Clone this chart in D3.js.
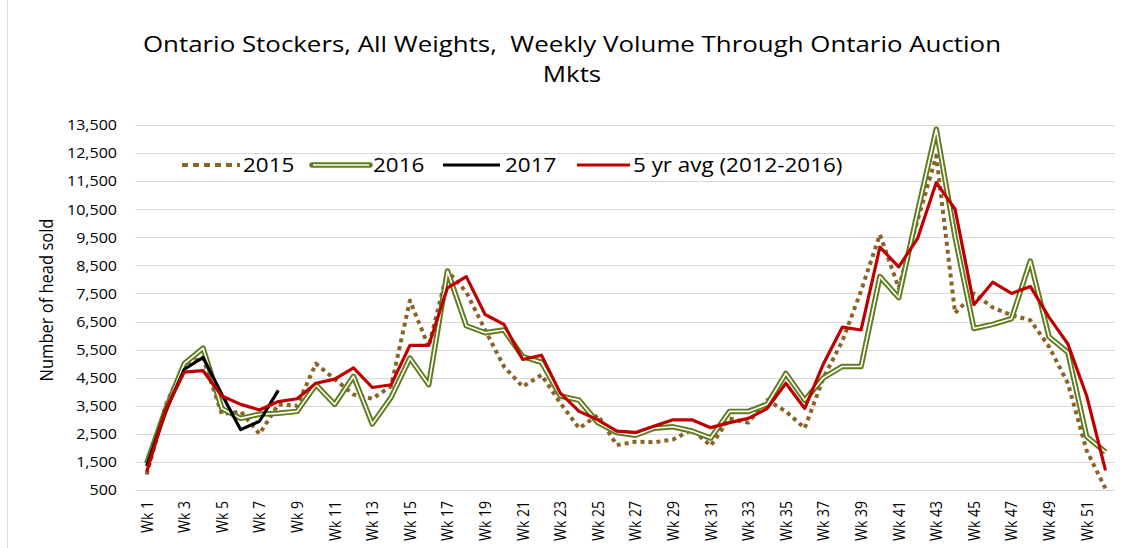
<!DOCTYPE html>
<html><head><meta charset="utf-8">
<script src="https://cdn.jsdelivr.net/npm/d3@7"></script>
<style>
body{margin:0;background:#fff;}
text{font-family:"Open Sans",sans-serif;white-space:pre;}
</style>
</head><body>
<svg id="chart" width="1125" height="548"></svg>
<script>
const titleLines = ["Ontario Stockers, All Weights,  Weekly Volume Through Ontario Auction", "Mkts"];
const yAxisTitle = "Number of head sold";
const weeks = d3.range(1, 53).map(w => "Wk " + w);
const yTicks = d3.range(500, 13501, 1000);
const seriesNames = ["2015", "2016", "2017", "5 yr avg (2012-2016)"];

const s2015 = [1050,3500,5000,5200,3200,3300,2500,3550,3500,5000,4450,3900,3750,4200,7250,5600,8300,7550,6200,4900,4180,4600,3600,2700,3170,2100,2220,2200,2300,2650,2080,3050,2900,3700,3300,2700,4500,5800,7600,9600,7700,10100,12400,6800,7500,7000,6730,6550,5600,4300,1900,550];
const s2016 = [1450,3350,5000,5550,3400,3050,3200,3230,3300,4250,3550,4550,2850,3800,5200,4250,8300,6350,6100,6200,5250,5050,3850,3700,2900,2550,2450,2700,2750,2600,2350,3300,3300,3550,4650,3700,4500,4900,4900,8100,7350,10400,13350,9500,6250,6400,6600,8650,5950,5400,2400,1850];
const s2017 = [1350,3300,4800,5220,3900,2650,2950,4050];
const sAvg = [1150,3350,4700,4750,3850,3550,3350,3650,3750,4300,4450,4850,4150,4250,5650,5650,7700,8100,6750,6400,5150,5300,3950,3300,3000,2600,2550,2780,3000,3000,2720,2900,3050,3400,4300,3400,5000,6300,6200,9150,8450,9450,11450,10500,7100,7900,7500,7750,6650,5700,3850,1200];

const svg = d3.select("#chart");
const plotL = 137.3, plotR = 1114.9, plotT = 125, plotB = 490;
const stretch = 1.15;

const x = d3.scaleBand().domain(weeks).range([plotL, plotR]).padding(0);
const y = d3.scaleLinear().domain([500, 13500]).range([plotB, plotT]);
const cx = w => x(w) + x.bandwidth() / 2;

// left border of chart area
svg.append("line").attr("x1", 7.5).attr("x2", 7.5).attr("y1", 0).attr("y2", 548)
  .attr("stroke", "#d9d9d9").attr("stroke-width", 1);

// gridlines
svg.append("g").selectAll("line").data(yTicks).join("line")
  .attr("x1", plotL - 2).attr("x2", plotR)
  .attr("y1", d => Math.round(y(d)) + 0.5).attr("y2", d => Math.round(y(d)) + 0.5)
  .attr("stroke", "#d9d9d9").attr("stroke-width", 1);

// y axis labels
const yAxis = d3.axisLeft(y).tickValues(yTicks).tickFormat(d3.format(",")).tickSize(0).tickPadding(0);
const ya = svg.append("g").attr("transform", `translate(117,0)`).call(yAxis);
ya.select(".domain").remove();
ya.selectAll("text").attr("font-size", 15).attr("fill", "#000")
  .style("font-family", '"Open Sans",sans-serif')
  .attr("transform", "scale(1.07,1)");

// x axis labels
const xAxis = d3.axisBottom(x).tickValues(weeks.filter((d, i) => i % 2 === 0)).tickSize(0).tickPadding(0);
const xa = svg.append("g").attr("transform", `translate(0,${plotB})`).call(xAxis);
xa.select(".domain").remove();
xa.selectAll("text")
  .attr("font-size", 14).attr("fill", "#000").style("font-family", '"Open Sans",sans-serif')
  .attr("text-anchor", "end")
  .attr("transform", `scale(${stretch},1) rotate(-90)`)
  .attr("x", -11).attr("y", 0).attr("dy", "0.36em");

// y title
svg.append("text").attr("transform", `translate(53,300) scale(${stretch},1) rotate(-90)`)
  .attr("text-anchor", "middle").attr("font-size", 16.5).attr("fill", "#000")
  .text(yAxisTitle);

// title
svg.append("text").attr("transform", `translate(572,52) scale(${stretch},1)`).attr("text-anchor", "middle")
  .attr("font-size", 22.5).attr("fill", "#000").text(titleLines[0]);
svg.append("text").attr("transform", `translate(572,82) scale(${stretch},1)`).attr("text-anchor", "middle")
  .attr("font-size", 22.5).attr("fill", "#000").text(titleLines[1]);

const line = d3.line().x((d, i) => cx(weeks[i])).y(d => y(d)).curve(d3.curveLinear);

const cBrown = "#8a6328", cOlive = "#5f7d1e", cRed = "#c00000", cBlack = "#000";

// 2015 dotted
svg.append("path").datum(s2015).attr("d", line).attr("fill", "none")
  .attr("stroke", cBrown).attr("stroke-width", 4).attr("stroke-dasharray", "4,4")
  .attr("stroke-linejoin", "round");
// 2016 double
svg.append("path").datum(s2016).attr("d", line).attr("fill", "none")
  .attr("stroke", cOlive).attr("stroke-width", 5.5).attr("stroke-linejoin", "round");
svg.append("path").datum(s2016).attr("d", line).attr("fill", "none")
  .attr("stroke", "#fff").attr("stroke-width", 1.6).attr("stroke-linejoin", "round");
// 2017
svg.append("path").datum(s2017).attr("d", line).attr("fill", "none")
  .attr("stroke", cBlack).attr("stroke-width", 3.2).attr("stroke-linejoin", "round");
// avg
svg.append("path").datum(sAvg).attr("d", line).attr("fill", "none")
  .attr("stroke", cRed).attr("stroke-width", 3.2).attr("stroke-linejoin", "round");

// legend
const ly = 165;
const leg = svg.append("g");
const legItems = [
  {name: seriesNames[0], x1: 182, x2: 240, tx: 243},
  {name: seriesNames[1], x1: 312, x2: 370, tx: 373},
  {name: seriesNames[2], x1: 443, x2: 500, tx: 505},
  {name: seriesNames[3], x1: 577, x2: 630, tx: 633}
];
leg.append("line").attr("x1", legItems[0].x1).attr("x2", legItems[0].x2).attr("y1", ly).attr("y2", ly)
  .attr("stroke", cBrown).attr("stroke-width", 4).attr("stroke-dasharray", "6,5");
leg.append("line").attr("x1", legItems[1].x1).attr("x2", legItems[1].x2).attr("y1", ly).attr("y2", ly)
  .attr("stroke", cOlive).attr("stroke-width", 5.5).attr("stroke-linecap", "round");
leg.append("line").attr("x1", legItems[1].x1 + 1).attr("x2", legItems[1].x2 - 1).attr("y1", ly).attr("y2", ly)
  .attr("stroke", "#fff").attr("stroke-width", 1.6);
leg.append("line").attr("x1", legItems[2].x1).attr("x2", legItems[2].x2).attr("y1", ly).attr("y2", ly)
  .attr("stroke", cBlack).attr("stroke-width", 3);
leg.append("line").attr("x1", legItems[3].x1).attr("x2", legItems[3].x2).attr("y1", ly).attr("y2", ly)
  .attr("stroke", cRed).attr("stroke-width", 3);
leg.selectAll("text").data(legItems).join("text")
  .attr("transform", d => `translate(${d.tx},${ly}) scale(${stretch},1)`)
  .attr("dy", "0.36em")
  .attr("font-size", 19.5).attr("fill", "#000").text(d => d.name);
</script>
</body></html>
